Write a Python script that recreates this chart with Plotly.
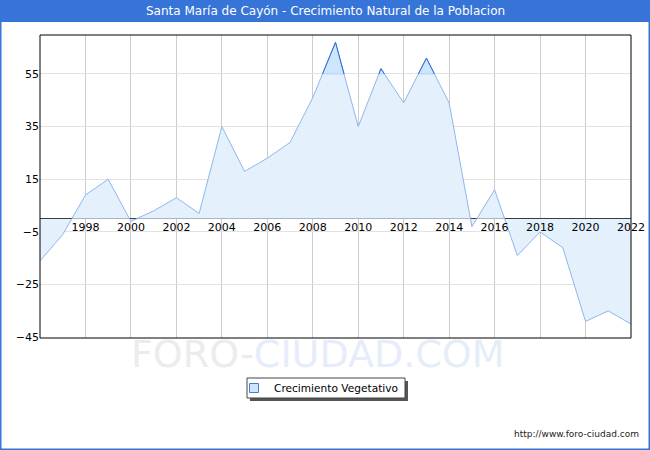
import plotly.graph_objects as go

years = list(range(1996, 2023))
values = [-16, -6, 9, 15, -1, 3, 8, 2, 35, 18, 23, 29, 46, 67, 35, 57, 44, 61, 44,
          -3, 11, -14, -5, -11, -39, -35, -40]
xtick_vals = list(range(1998, 2023, 2))
ytick_vals = [-45, -25, -5, 15, 35, 55]
series_name = "Crecimiento Vegetativo"
title_text = "Santa María de Cayón - Crecimiento Natural de la Poblacion"

W, H = 650, 450
ML, MR, MT, MB = 40, 19, 35, 112
PW, PH = W - ML - MR, H - MT - MB
YMIN, YMAX = -45.3, 69.8
HI = 55  # highlight threshold (darker band above top gridline)

# polygons of the part above HI (with crossing points)
segs = []
cur = []
for i in range(len(years) - 1):
    x0, y0, x1, y1 = years[i], values[i], years[i + 1], values[i + 1]
    if y0 > HI and not cur:
        cur = [(x0, HI), (x0, y0)]
    if (y0 > HI) != (y1 > HI):
        xc = x0 + (HI - y0) * (x1 - x0) / (y1 - y0)
        if y1 > HI:
            cur = [(xc, HI), (x1, y1)]
        else:
            cur.append((xc, HI))
            segs.append(cur)
            cur = []
    elif y1 > HI:
        cur.append((x1, y1))
hx, hy, dx, dy = [], [], [], []
for s in segs:
    hx += [p[0] for p in s] + [s[0][0], None]
    hy += [p[1] for p in s] + [s[0][1], None]
    dx += [p[0] for p in s] + [None]
    dy += [p[1] for p in s] + [None]

fig = go.Figure()
fig.add_trace(go.Scatter(
    x=years, y=values, mode="lines", name=series_name, showlegend=False,
    line=dict(color="#8fb6ee", width=1),
    fill="tozeroy", fillcolor="#e4f1fd",
))
fig.add_trace(go.Scatter(
    x=hx, y=hy, mode="lines", showlegend=False, hoverinfo="skip",
    line=dict(color="#8fb6ee", width=0.5),
    fill="toself", fillcolor="#cde6fd",
))
fig.add_trace(go.Scatter(x=dx, y=dy, mode="lines", showlegend=False,
                         hoverinfo="skip", line=dict(color="#2a66d0", width=1)))
# legend entry: small square
fig.add_trace(go.Scatter(x=[None], y=[None], mode="markers", name=series_name,
                         marker=dict(symbol="square", size=9, color="#cde6fd",
                                     line=dict(color="#4a7bd0", width=1))))

zero_pos = (0 - YMIN) / (YMAX - YMIN)

fx0, fx1 = -ML / PW, 1 + MR / PW
fy0, fy1 = -MB / PH, 1 + MT / PH
title_h = 22 / PH

shapes = [
    dict(type="rect", xref="paper", yref="paper", x0=fx0, x1=fx1,
         y0=fy1 - title_h, y1=fy1, fillcolor="#3674d8", line=dict(width=0), layer="below"),
    dict(type="rect", xref="paper", yref="paper", x0=fx0 + 0.75 / PW, x1=fx1 - 0.75 / PW,
         y0=fy0 + 0.75 / PH, y1=fy1, fillcolor="rgba(0,0,0,0)",
         line=dict(color="#3674d8", width=1.5)),
    dict(type="rect", xref="paper", yref="paper", x0=0, x1=1, y0=0, y1=1,
         fillcolor="rgba(0,0,0,0)", line=dict(color="black", width=1)),
    # legend shadow
    dict(type="rect", xref="paper", yref="paper",
         x0=(250 - ML) / PW, x1=(408 - ML) / PW,
         y0=(H - MB - 401) / PH, y1=(H - MB - 381) / PH,
         fillcolor="#555555", line=dict(width=0), layer="below"),
    dict(type="rect", xref="paper", yref="paper",
         x0=(247 - ML) / PW, x1=(405 - ML) / PW,
         y0=(H - MB - 398) / PH, y1=(H - MB - 378) / PH,
         fillcolor="white", line=dict(color="#444444", width=1), layer="below"),
]

annotations = [
    dict(text=title_text, xref="paper", yref="paper", x=(W / 2 - ML) / PW,
         y=fy1 - title_h / 2, showarrow=False, xanchor="center", yanchor="middle",
         font=dict(family="DejaVu Sans", size=12, color="white")),
    dict(text="<span style='color:#ececec'>FORO-</span><span style='color:#e6edfa'>CIUDAD.COM</span>",
         xref="paper", yref="paper", x=(318 - ML) / PW, y=(H - MB - 354) / PH,
         showarrow=False, xanchor="center", yanchor="middle",
         font=dict(family="DejaVu Sans", size=38)),
    dict(text="http://www.foro-ciudad.com", xref="paper", yref="paper",
         x=(641 - ML) / PW, y=(H - MB - 434) / PH, showarrow=False,
         xanchor="right", yanchor="middle",
         font=dict(family="DejaVu Sans", size=9, color="#222222")),
]

fig.update_layout(
    width=W, height=H,
    margin=dict(l=ML, r=MR, t=MT, b=MB, autoexpand=False),
    paper_bgcolor="white", plot_bgcolor="white",
    showlegend=True,
    legend=dict(x=(234 - ML) / PW, y=(H - MB - 388) / PH, xanchor="left", yanchor="middle",
                bgcolor="rgba(0,0,0,0)", borderwidth=0,
                font=dict(family="DejaVu Sans", size=10.6, color="black"),
                itemwidth=30),
    shapes=shapes, annotations=annotations,
    xaxis=dict(range=[1996, 2022], tickvals=xtick_vals, showticklabels=False,
               showgrid=True, gridcolor="#cccccc", gridwidth=1, zeroline=False,
               showline=False, ticks=""),
    xaxis2=dict(range=[1996, 2022], tickvals=xtick_vals, overlaying="x",
                anchor="free", position=zero_pos, side="bottom",
                showgrid=False, zeroline=False, showline=False, ticks="",
                tickfont=dict(family="DejaVu Sans", size=11, color="black")),
    yaxis=dict(range=[YMIN, YMAX], tickvals=ytick_vals, showgrid=True,
               gridcolor="#e2e2e2", gridwidth=1, zeroline=True, zerolinecolor="black",
               zerolinewidth=1, showline=False, ticks="",
               tickfont=dict(family="DejaVu Sans", size=11, color="black")),
)
fig.add_trace(go.Scatter(x=[None], y=[None], xaxis="x2", showlegend=False))

fig.write_html("out.html", config={"displayModeBar": False},
               post_script="document.body.style.margin='0';document.body.style.overflow='hidden';")
